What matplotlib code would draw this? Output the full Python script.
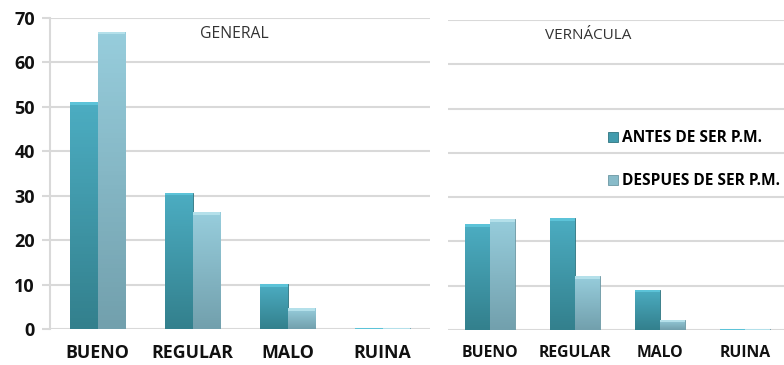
import numpy as np
import matplotlib
matplotlib.use("Agg")
import matplotlib.pyplot as plt
from matplotlib.colors import LinearSegmentedColormap

categories = ["BUENO", "REGULAR", "MALO", "RUINA"]
series_names = ["ANTES DE SER P.M.", "DESPUES DE SER P.M."]
general_antes = [51.1, 30.7, 10.1, 0.2]
general_despues = [66.9, 26.3, 4.7, 0.3]
vern_antes = [23.9, 25.3, 9.1, 0.2]
vern_despues = [25.1, 12.1, 2.3, 0.3]
yticks = [0, 10, 20, 30, 40, 50, 60, 70]

FONT = ["Open Sans", "DejaVu Sans"]
plt.rcParams["font.family"] = FONT

dark_cmap = LinearSegmentedColormap.from_list("d", ["#33808d", "#4cadc2"])
light_cmap = LinearSegmentedColormap.from_list("l", ["#72a0ad", "#97cddc"])
grid_col = "#d9d9d9"


def shaded_bars(ax, x, vals, w, cmap, top_col, edge_col):
    bars = ax.bar(x, vals, w, color=cmap(0.6), edgecolor=edge_col,
                  linewidth=0.6, zorder=2)
    grad = np.linspace(0, 1, 64).reshape(-1, 1)
    for b in bars:
        x0, y0 = b.get_x(), b.get_y()
        bw, bh = b.get_width(), b.get_height()
        if bh <= 0:
            continue
        im = ax.imshow(grad, cmap=cmap, origin="lower", aspect="auto",
                       extent=(x0, x0 + bw, y0, y0 + bh), zorder=2.5)
        im.set_clip_path(b)
        cap = min(0.6, bh)
        ax.fill_between([x0, x0 + bw], y0 + bh - cap, y0 + bh,
                        color=top_col, zorder=2.6, linewidth=0)
    return bars


def panel(ax, antes, despues, title, title_x, label_size, title_size):
    x = np.arange(len(categories))
    w = 0.29
    b1 = shaded_bars(ax, x - w / 2, antes, w, dark_cmap, "#5cc3d8", "#2e7480")
    b2 = shaded_bars(ax, x + w / 2, despues, w, light_cmap, "#b4e0ea", "#6b97a3")
    ax.set_xlim(-0.5, 3.5)
    ax.set_ylim(0, 70)
    ax.set_yticks(yticks)
    ax.yaxis.grid(True, color=grid_col, linewidth=1.5, zorder=0)
    ax.set_axisbelow(True)
    for s in ["top", "right", "bottom"]:
        ax.spines[s].set_visible(False)
    ax.set_xticks(x)
    ax.set_xticklabels(categories, fontsize=label_size, fontweight="bold",
                       color="#111111")
    ax.tick_params(axis="x", length=0, pad=11)
    ax.text(title_x, 66.5, title, ha="center", va="center", fontsize=title_size,
            color="#333333", transform=ax.transData)
    return b1, b2


fig = plt.figure(figsize=(7.84, 3.65), dpi=100)
ax1 = fig.add_axes([50 / 784, 36 / 365, 380 / 784, 311 / 365])
ax2 = fig.add_axes([447.5 / 784, 35 / 365, 340 / 784, 310 / 365])

b1, b2 = panel(ax1, general_antes, general_despues, "GENERAL", 1.44, 12.8, 11.3)
ax1.spines["left"].set_color(grid_col)
ax1.spines["left"].set_linewidth(1.5)
ax1.tick_params(axis="y", length=6, width=1.5, color=grid_col,
                labelsize=13, pad=5)
for t in ax1.get_yticklabels():
    t.set_fontweight("bold")
    t.set_color("#111111")

panel(ax2, vern_antes, vern_despues, "VERNÁCULA", 1.16, 11.3, 11)
ax2.spines["left"].set_visible(False)
ax2.tick_params(axis="y", length=0, labelleft=False)

fig.legend([b1, b2], series_names, loc="upper left",
           bbox_to_anchor=(602 / 784, 1 - 124 / 365), frameon=False,
           handlelength=0.6, handleheight=0.6, handletextpad=0.3,
           labelspacing=1.75, borderaxespad=0,
           prop={"family": FONT, "weight": "bold", "size": 11.2})

fig.savefig("out.png", dpi=100)
